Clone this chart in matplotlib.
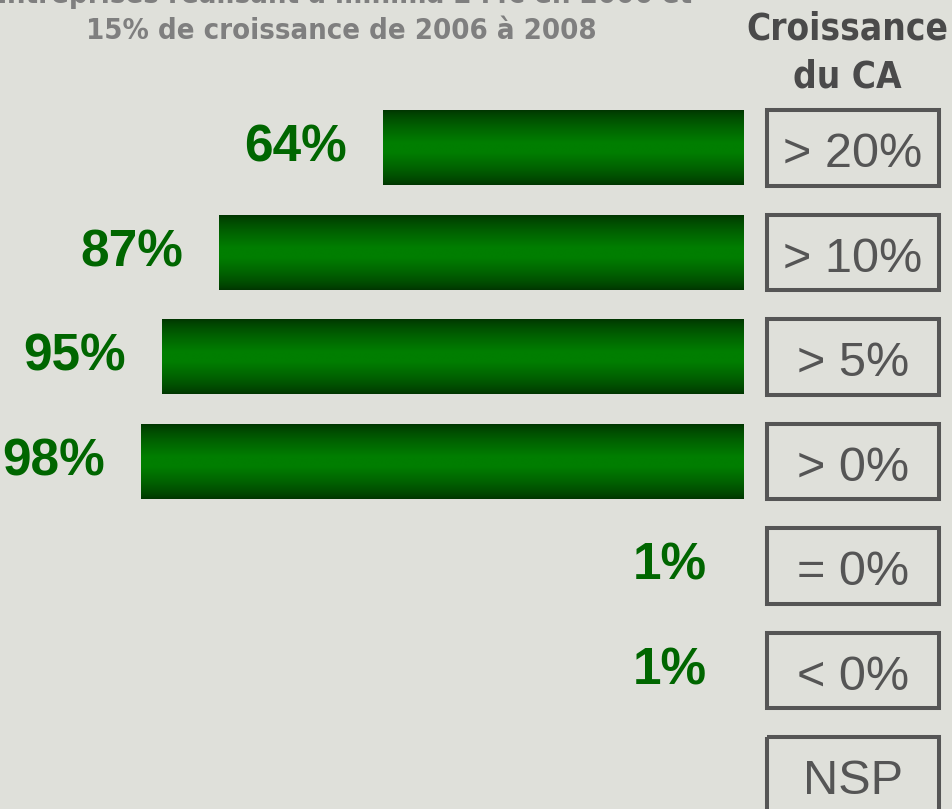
import numpy as np
import matplotlib
matplotlib.use('Agg')
import matplotlib.pyplot as plt
from matplotlib import font_manager as fm
from matplotlib.patches import Rectangle
from matplotlib.transforms import blended_transform_factory

# ---------------- data ----------------
categories = ['> 20%', '> 10%', '> 5%', '> 0%', '= 0%', '< 0%', 'NSP']
values = [64, 87, 95, 98, 1, 1, np.nan]
value_labels = ['64%', '87%', '95%', '98%', '1%', '1%', '']
title_lines = ['Entreprises réalisant a minima 2 M€ en 2006 et',
               '15% de croissance de 2006 à 2008']
header_lines = ['Croissance', 'du CA']

# ---------------- styling ----------------
W, H, DPI = 953, 809, 100
bg = '#dfe0da'
green_txt = '#006600'
box_col = '#555555'
dark_green = np.array([0, 52, 0]) / 255
bright_green = np.array([0, 126, 0]) / 255

has_cond = any(f.name == 'DejaVu Sans' and str(f.stretch) in ('condensed', 'semi-condensed')
               for f in fm.fontManager.ttflist)
if has_cond:
    head_kw = dict(family='DejaVu Sans', fontstretch='condensed', fontweight='bold')
    head_size, title_size = 26.5, 21
else:
    head_kw = dict(family='DejaVu Sans', fontweight='bold')
    head_size, title_size = 23, 18.5

fig = plt.figure(figsize=(W / DPI, H / DPI), dpi=DPI)
fig.patch.set_facecolor(bg)

row0_px, row_px = 148, 104.5
bar_right_px = 743
x_clip, px_per = 13.5, 7.13

ax = fig.add_axes([0, 0, bar_right_px / W, 1])
ax.axis('off')

y = np.arange(len(categories))
bars = ax.barh(y, values, height=0.71, color=dark_green, linewidth=0)

# vertical gradient on bars
t = np.linspace(0, 1, 256)
f = np.clip((1 - np.abs(2 * t - 1)) * 1.15, 0, 1) ** 0.75
grad = dark_green[None, :] + (bright_green - dark_green)[None, :] * f[:, None]
grad = np.repeat(grad[:, None, :], 2, axis=1)
for p in bars.patches:
    bb = p.get_bbox()
    if not np.isfinite(bb.x1) or bb.width == 0:
        continue
    ax.imshow(grad, extent=[bb.x0, bb.x1, bb.y1, bb.y0], aspect='auto',
              interpolation='bilinear', zorder=3)

# value labels
gap = 5
for yi, v, lab in zip(y, values, value_labels):
    if not lab:
        continue
    ax.text(max(v, x_clip) + gap, yi + 0.13, lab, ha='right', va='baseline',
            color=green_txt, fontsize=37, fontweight='bold', family='Liberation Sans')

ax.set_ylim((H - row0_px) / row_px, -row0_px / row_px)
ax.set_xlim(x_clip + bar_right_px / px_per, x_clip)

# category boxes
trans = blended_transform_factory(fig.transFigure, ax.transData)
box_x0, box_w, box_h = 767 / W, 172 / W, 0.727
for yi, cat in zip(y, categories):
    ax.add_patch(Rectangle((box_x0, yi - box_h / 2), box_w, box_h, transform=trans,
                           fill=False, edgecolor=box_col, linewidth=2.9, clip_on=False))
    ax.text(box_x0 + box_w / 2, yi + 0.185, cat, transform=trans, ha='center',
            va='baseline', color=box_col, fontsize=35, family='Liberation Sans',
            clip_on=False)

# header
fig.text(847 / W, 1 - 40 / H, header_lines[0], ha='center', va='baseline',
         color='#4a4a4a', fontsize=head_size, **head_kw)
fig.text(847 / W, 1 - 87 / H, header_lines[1], ha='center', va='baseline',
         color='#4a4a4a', fontsize=head_size, **head_kw)

# title (first line partly cut off at the top)
fig.text(341 / W, 1 - 3 / H, title_lines[0], ha='center', va='baseline',
         color='#7f7f7f', fontsize=title_size, **head_kw)
fig.text(341 / W, 1 - 39 / H, title_lines[1], ha='center', va='baseline',
         color='#7f7f7f', fontsize=title_size, **head_kw)

fig.savefig('out.png', dpi=DPI, facecolor=bg)
